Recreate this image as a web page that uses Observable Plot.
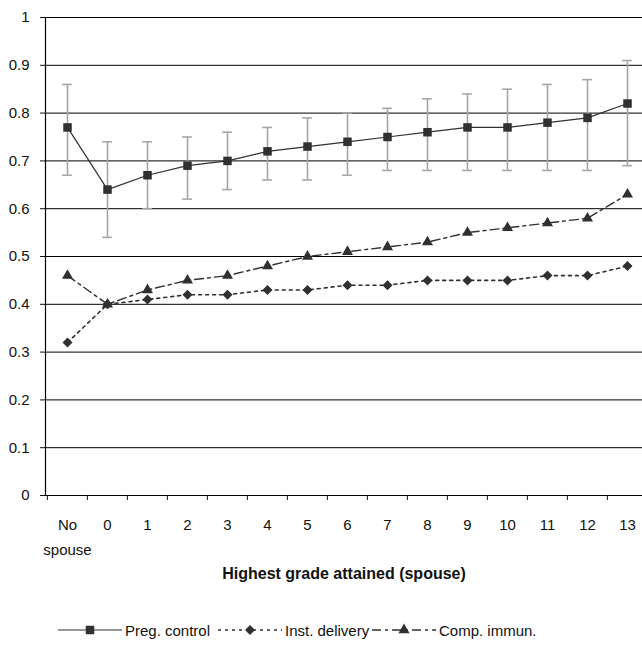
<!DOCTYPE html>
<html>
<head>
<meta charset="utf-8">
<script src="https://cdn.jsdelivr.net/npm/d3@7"></script>
<script src="https://cdn.jsdelivr.net/npm/@observablehq/plot@0.6"></script>
<style>
  body { margin: 0; background: #fff; font-family: "Liberation Sans", Arial, sans-serif; }
  #wrap { width: 642px; }
  #legend { position: relative; width: 642px; height: 49px; font-size: 15px; color: #111; }
  .item { position: absolute; top: 21px; height: 18px; display: flex; align-items: center; white-space: nowrap; }
  .item svg { margin-right: 3px; }
</style>
</head>
<body>
<div id="wrap">
  <div id="chart"></div>
  <div id="legend"></div>
</div>
<script>
const categories = ["No spouse", "0", "1", "2", "3", "4", "5", "6", "7", "8", "9", "10", "11", "12", "13"];
const pregControl = [0.77, 0.64, 0.67, 0.69, 0.70, 0.72, 0.73, 0.74, 0.75, 0.76, 0.77, 0.77, 0.78, 0.79, 0.82];
const pregLow     = [0.67, 0.54, 0.60, 0.62, 0.64, 0.66, 0.66, 0.67, 0.68, 0.68, 0.68, 0.68, 0.68, 0.68, 0.69];
const pregHigh    = [0.86, 0.74, 0.74, 0.75, 0.76, 0.77, 0.79, 0.80, 0.81, 0.83, 0.84, 0.85, 0.86, 0.87, 0.91];
const instDelivery = [0.32, 0.40, 0.41, 0.42, 0.42, 0.43, 0.43, 0.44, 0.44, 0.45, 0.45, 0.45, 0.46, 0.46, 0.48];
const compImmun    = [0.46, 0.40, 0.43, 0.45, 0.46, 0.48, 0.50, 0.51, 0.52, 0.53, 0.55, 0.56, 0.57, 0.58, 0.63];
const yTicks = [0, 0.1, 0.2, 0.3, 0.4, 0.5, 0.6, 0.7, 0.8, 0.9, 1];
const seriesNames = ["Preg. control", "Inst. delivery", "Comp. immun."];
const xTitle = "Highest grade attained (spouse)";

const preg = categories.map((c, i) => ({cat: c, v: pregControl[i], lo: pregLow[i], hi: pregHigh[i]}));
const inst = categories.map((c, i) => ({cat: c, v: instDelivery[i]}));
const comp = categories.map((c, i) => ({cat: c, v: compImmun[i]}));

const ink = "#303030";
const bw = (648 - 45) / categories.length;

const chart = Plot.plot({
  width: 642,
  height: 600,
  marginTop: 17,
  marginBottom: 105,
  marginLeft: 45,
  marginRight: 0,
  style: {fontFamily: "'Liberation Sans', Arial, sans-serif", fontSize: "15px", color: "#111", background: "#fff"},
  x: {type: "band", domain: categories, range: [45, 648], padding: 0, label: null},
  y: {domain: [0, 1], label: null},
  marks: [
    Plot.ruleY(yTicks.slice(1), {stroke: "#000", strokeWidth: 1}),
    Plot.ruleY([0], {stroke: "#000", strokeWidth: 1.2}),
    Plot.frame({anchor: "left", stroke: "#000", strokeWidth: 1.2}),
    Plot.axisY({ticks: yTicks, tickSize: 5, tickPadding: 11, tickFormat: d => String(+d.toFixed(1)), label: null}),
    Plot.axisX({ticks: categories, tickSize: 5, tickFormat: () => "", dx: -bw / 2, label: null}),
    Plot.axisX({ticks: categories, tickSize: 0, tickPadding: 17, lineHeight: 1.65,
      tickFormat: d => d === "No spouse" ? "No\nspouse" : d, label: null}),
    Plot.ruleX(preg, {x: "cat", y1: "lo", y2: "hi", stroke: "#a6a6a6", strokeWidth: 1.6}),
    Plot.tickY(preg, {x: "cat", y: "hi", stroke: "#a6a6a6", strokeWidth: 1.6, inset: (bw - 10) / 2}),
    Plot.tickY(preg, {x: "cat", y: "lo", stroke: "#a6a6a6", strokeWidth: 1.6, inset: (bw - 10) / 2}),
    Plot.line(preg, {x: "cat", y: "v", stroke: ink, strokeWidth: 1.2}),
    Plot.line(inst, {x: "cat", y: "v", stroke: ink, strokeWidth: 1.6, strokeDasharray: "3,4"}),
    Plot.line(comp, {x: "cat", y: "v", stroke: ink, strokeWidth: 1.4, strokeDasharray: "9,4,3,4"}),
    Plot.dot(preg, {x: "cat", y: "v", symbol: "square", r: 4.8, fill: ink, stroke: "none"}),
    Plot.dot(inst, {x: "cat", y: "v", symbol: "diamond2", r: 4.5, fill: ink, stroke: "none"}),
    Plot.dot(comp, {x: "cat", y: "v", symbol: "triangle", r: 4.1, fill: ink, stroke: "none"}),
    Plot.text([xTitle], {frameAnchor: "bottom", dy: 83, text: d => d, fontWeight: "bold", fontSize: 16, fill: "#111"})
  ]
});
document.getElementById("chart").appendChild(chart);

// legend
const legend = document.getElementById("legend");
const lefts = [58, 218, 372];
const dashes = [null, "3,4", "9,4,3,4"];
const widths = [1.2, 1.6, 1.4];
const symbols = [d3.symbolSquare, d3.symbolDiamond2, d3.symbolTriangle];
const radii = [4.8, 4.5, 4.1];
seriesNames.forEach((name, i) => {
  const item = document.createElement("div");
  item.className = "item";
  item.style.left = lefts[i] + "px";
  const ns = "http://www.w3.org/2000/svg";
  const svg = document.createElementNS(ns, "svg");
  svg.setAttribute("width", 64); svg.setAttribute("height", 18);
  const line = document.createElementNS(ns, "line");
  line.setAttribute("x1", 0); line.setAttribute("x2", 64);
  line.setAttribute("y1", 9); line.setAttribute("y2", 9);
  line.setAttribute("stroke", ink); line.setAttribute("stroke-width", widths[i]);
  if (dashes[i]) line.setAttribute("stroke-dasharray", dashes[i]);
  svg.appendChild(line);
  const p = document.createElementNS(ns, "path");
  p.setAttribute("d", d3.symbol(symbols[i], Math.PI * radii[i] * radii[i])());
  p.setAttribute("transform", "translate(32,9)");
  p.setAttribute("fill", ink);
  svg.appendChild(p);
  item.appendChild(svg);
  const t = document.createElement("span");
  t.textContent = name;
  item.appendChild(t);
  legend.appendChild(item);
});
</script>
</body>
</html>
